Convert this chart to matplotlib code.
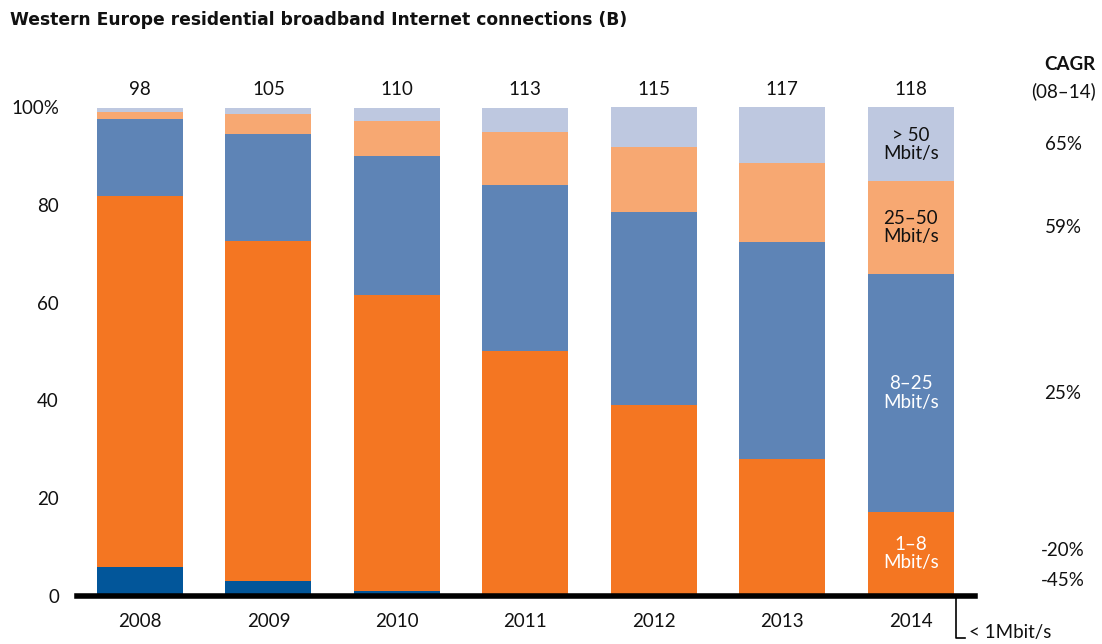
import matplotlib.pyplot as plt
import matplotlib.transforms as mtransforms
import numpy as np

plt.rcParams["font.family"] = ["Lato", "DejaVu Sans"]

# Share of connections by speed tier (%), bottom to top
years = ["2008", "2009", "2010", "2011", "2012", "2013", "2014"]
totals = [98, 105, 110, 113, 115, 117, 118]
below_1 = [5.9, 3.1, 1.0, 0.2, 0.1, 0.1, 0.1]
mbit_1_8 = [75.9, 69.4, 60.6, 50.0, 39.0, 28.0, 17.1]
mbit_8_25 = [15.7, 22.0, 28.4, 33.9, 39.4, 44.3, 48.6]
mbit_25_50 = [1.4, 4.1, 7.1, 10.8, 13.3, 16.1, 19.0]
above_50 = [0.8, 1.2, 2.6, 4.9, 8.2, 11.4, 15.1]

tier_labels = ["< 1Mbit/s", "1–8\nMbit/s", "8–25\nMbit/s", "25–50\nMbit/s", "> 50\nMbit/s"]
cagr = ["-45%", "-20%", "25%", "59%", "65%"]
y_ticks = [0, 20, 40, 60, 80, 100]
y_tick_labels = ["0", "20", "40", "60", "80", "100%"]

colors = ["#02569A", "#F47622", "#5E84B6", "#F7A872", "#BEC8E0"]
label_colors = [None, "white", "white", "#111111", "#111111"]

series = [below_1, mbit_1_8, mbit_8_25, mbit_25_50, above_50]
fs = 13.5

fig = plt.figure(figsize=(11.02, 6.44), dpi=100)
fig.patch.set_facecolor("white")
ax = fig.add_axes([77 / 1102, 48 / 644, 898 / 1102, 489 / 644])

x = np.arange(len(years))
width = 0.67
bottom = np.zeros(len(years))
mids_last = []
for vals, color in zip(series, colors):
    vals = np.array(vals)
    ax.bar(x, vals, width, bottom=bottom, color=color, linewidth=0, zorder=2)
    mids_last.append(bottom[-1] + vals[-1] / 2)
    bottom = bottom + vals

ax.set_xlim(-0.49, 6.5)
ax.set_ylim(0, 100)

# Baseline drawn thick across the whole plot
ax.axhline(0, color="black", linewidth=4, zorder=3, clip_on=False)

for side in ["top", "right", "left", "bottom"]:
    ax.spines[side].set_visible(False)

ax.set_xticks(x)
ax.set_xticklabels(years, fontsize=fs, color="#111111")
ax.set_yticks(y_ticks)
ax.set_yticklabels(y_tick_labels, fontsize=fs, color="#111111")
ax.tick_params(axis="both", length=0)
ax.tick_params(axis="x", pad=12)
ax.tick_params(axis="y", pad=13)

# Totals above each bar
for xi, tot in zip(x, totals):
    ax.text(xi, 103.5, str(tot), ha="center", va="center", fontsize=fs,
            color="#111111", clip_on=False)

# Tier labels inside the 2014 bar
for i in range(1, len(series)):
    ax.text(x[-1], mids_last[i], tier_labels[i], ha="center", va="center",
            fontsize=fs, color=label_colors[i], linespacing=1.1, zorder=4)

# CAGR column, x in figure space, y in data space
cagr_tr = mtransforms.blended_transform_factory(fig.transFigure, ax.transData)
cagr_x = 1063 / 1102
cagr_y = [3.1, 9.4] + mids_last[2:]
for val, yv in zip(cagr, cagr_y):
    ax.text(cagr_x, yv, val, ha="center", va="center", fontsize=fs,
            color="#111111", transform=cagr_tr, clip_on=False)
fig.text(1070 / 1102, 1 - 65 / 644, "CAGR", ha="center", va="center",
         fontsize=fs, fontweight="bold", color="#111111")
fig.text(1063 / 1102, 1 - 91 / 644, "(08–14)", ha="center", va="center",
         fontsize=fs, color="#111111")

# Leader for the smallest tier
lx = x[-1] + width / 2 + 0.02
ax.plot([lx, lx, lx + 0.07], [0, -8.5, -8.5], color="black", linewidth=1.2,
        clip_on=False, zorder=3)
ax.text(lx + 0.1, -7.5, tier_labels[0], ha="left", va="center", fontsize=fs,
        color="#111111", clip_on=False)

fig.text(10 / 1102, 1 - 20 / 644,
         "Western Europe residential broadband Internet connections (B)",
         ha="left", va="center", fontsize=12.3, fontweight="bold",
         family="DejaVu Sans", color="#111111")

fig.savefig("out.png", dpi=100, facecolor="white")
